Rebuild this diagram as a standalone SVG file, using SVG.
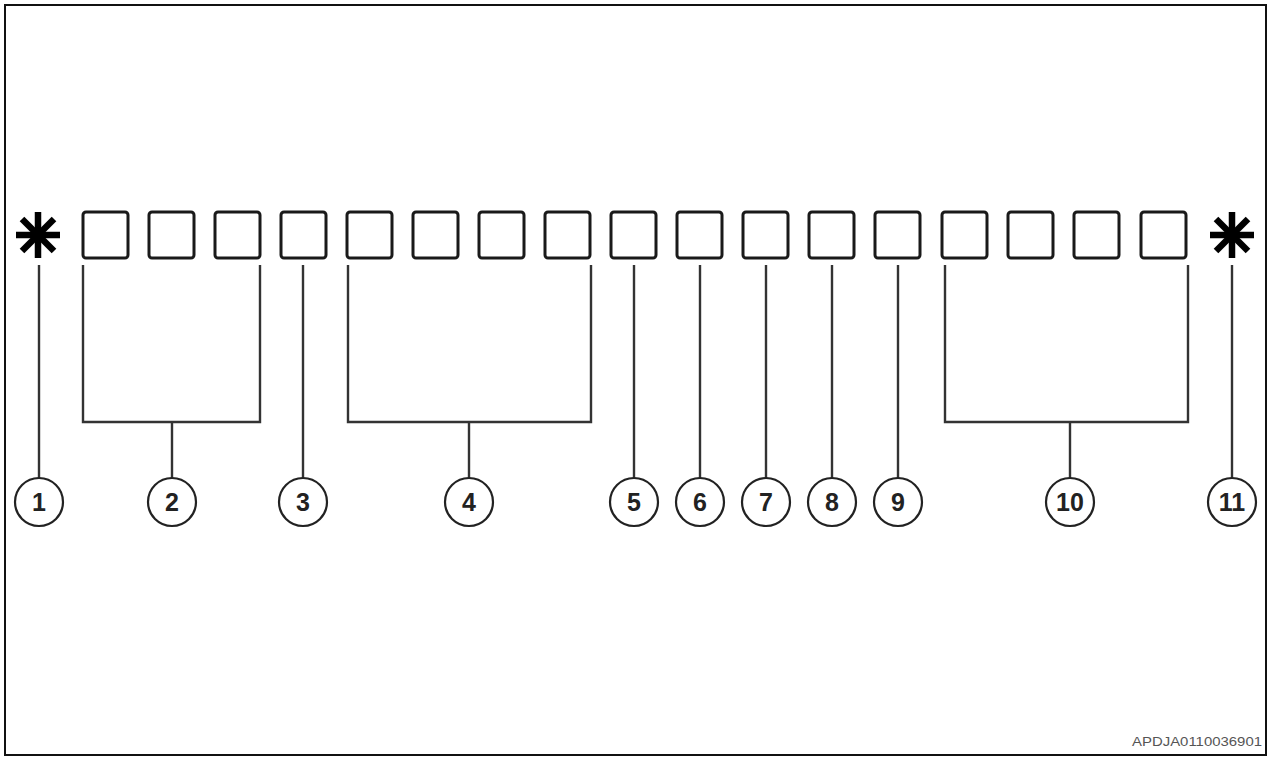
<svg xmlns="http://www.w3.org/2000/svg" width="1273" height="757" viewBox="0 0 1273 757">
<style>
.frame{fill:none;stroke:#111;stroke-width:2}
.sq{fill:#fff;stroke:#1a1a1a;stroke-width:3}
.ast{stroke:#000;stroke-width:6.5;stroke-linecap:butt}
.ld{fill:none;stroke:#333;stroke-width:2.4}
.cir{fill:#fff;stroke:#222;stroke-width:2.2}
.num{font-family:"Liberation Sans",Arial,sans-serif;font-size:25px;font-weight:bold;fill:#222;text-anchor:middle}
.cap{font-family:"Liberation Sans",Arial,sans-serif;font-size:13px;fill:#555}
</style>
<defs>
<g id="star">
<line class="ast" x1="0" y1="-23" x2="0" y2="23"/>
<line class="ast" x1="-22" y1="0" x2="22" y2="0"/>
<line class="ast" x1="-16" y1="-16" x2="16" y2="16"/>
<line class="ast" x1="-16" y1="16" x2="16" y2="-16"/>
</g>
<rect id="box" x="0" y="0" width="45" height="46" rx="3" class="sq"/>
</defs>
<rect x="0" y="0" width="1273" height="757" fill="#fff"/>
<rect class="frame" x="5" y="5" width="1261" height="750"/>

<g id="segments">
<use href="#star" x="38" y="235"/>
<use href="#box" x="83" y="212"/>
<use href="#box" x="149" y="212"/>
<use href="#box" x="215" y="212"/>
<use href="#box" x="281" y="212"/>
<use href="#box" x="347" y="212"/>
<use href="#box" x="413" y="212"/>
<use href="#box" x="479" y="212"/>
<use href="#box" x="545" y="212"/>
<use href="#box" x="611" y="212"/>
<use href="#box" x="677" y="212"/>
<use href="#box" x="743" y="212"/>
<use href="#box" x="809" y="212"/>
<use href="#box" x="875" y="212"/>
<use href="#box" x="942" y="212"/>
<use href="#box" x="1008" y="212"/>
<use href="#box" x="1074" y="212"/>
<use href="#box" x="1141" y="212"/>
<use href="#star" x="1232" y="235"/>
</g>

<g id="connectors">
<path class="ld" d="M39 265V478"/>
<path class="ld" d="M83 265V422H260V265M172 422V478"/>
<path class="ld" d="M303 265V478"/>
<path class="ld" d="M348 265V422H591V265M469 422V478"/>
<path class="ld" d="M634 265V478"/>
<path class="ld" d="M700 265V478"/>
<path class="ld" d="M766 265V478"/>
<path class="ld" d="M832 265V478"/>
<path class="ld" d="M898 265V478"/>
<path class="ld" d="M945 265V422H1188V265M1070 422V478"/>
<path class="ld" d="M1232 265V478"/>
</g>

<g id="label1"><circle class="cir" cx="39" cy="502" r="24"/><text class="num" x="39" y="511">1</text></g>
<g id="label2"><circle class="cir" cx="172" cy="502" r="24"/><text class="num" x="172" y="511">2</text></g>
<g id="label3"><circle class="cir" cx="303" cy="502" r="24"/><text class="num" x="303" y="511">3</text></g>
<g id="label4"><circle class="cir" cx="469" cy="502" r="24"/><text class="num" x="469" y="511">4</text></g>
<g id="label5"><circle class="cir" cx="634" cy="502" r="24"/><text class="num" x="634" y="511">5</text></g>
<g id="label6"><circle class="cir" cx="700" cy="502" r="24"/><text class="num" x="700" y="511">6</text></g>
<g id="label7"><circle class="cir" cx="766" cy="502" r="24"/><text class="num" x="766" y="511">7</text></g>
<g id="label8"><circle class="cir" cx="832" cy="502" r="24"/><text class="num" x="832" y="511">8</text></g>
<g id="label9"><circle class="cir" cx="898" cy="502" r="24"/><text class="num" x="898" y="511">9</text></g>
<g id="label10"><circle class="cir" cx="1070" cy="502" r="24"/><text class="num" x="1070" y="511">10</text></g>
<g id="label11"><circle class="cir" cx="1232" cy="502" r="24"/><text class="num" x="1232" y="511">11</text></g>

<text class="cap" x="1132" y="746" textLength="130" lengthAdjust="spacingAndGlyphs">APDJA0110036901</text>
</svg>
